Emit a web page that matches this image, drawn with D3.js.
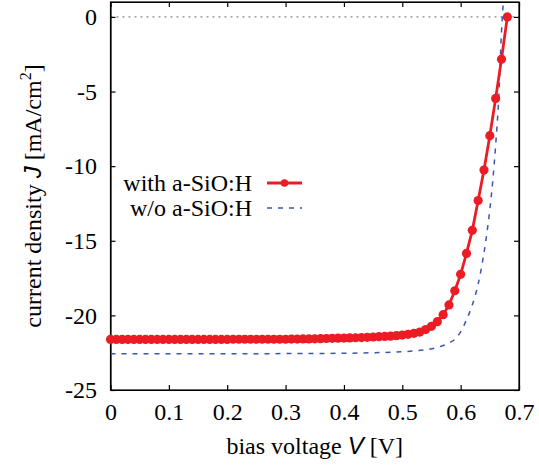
<!DOCTYPE html>
<html>
<head>
<meta charset="utf-8">
<script src="https://cdn.jsdelivr.net/npm/d3@7"></script>
<style>
  body { margin: 0; background: #fff; }
  svg { display: block; }
  svg text { font-family: "Liberation Serif", "Times New Roman", "DejaVu Serif", serif; }
  svg text .it { font-family: "Liberation Sans", "DejaVu Sans", sans-serif; font-style: italic; }
</style>
</head>
<body>
<svg id="svg" width="539" height="467"></svg>
<script>
// bias voltage points of the measured curve (with a-SiO:H)
const voltageWith = [
  0.00, 0.01, 0.02, 0.03, 0.04, 0.05, 0.06, 0.07, 0.08, 0.09,
  0.10, 0.11, 0.12, 0.13, 0.14, 0.15, 0.16, 0.17, 0.18, 0.19,
  0.20, 0.21, 0.22, 0.23, 0.24, 0.25, 0.26, 0.27, 0.28, 0.29,
  0.30, 0.31, 0.32, 0.33, 0.34, 0.35, 0.36, 0.37, 0.38, 0.39,
  0.40, 0.41, 0.42, 0.43, 0.44, 0.45, 0.46, 0.47, 0.48, 0.49,
  0.50, 0.51, 0.52, 0.53, 0.54, 0.55, 0.56, 0.57, 0.58, 0.59,
  0.60, 0.61, 0.62, 0.63, 0.64, 0.65, 0.66, 0.67, 0.68
];
// current density [mA/cm2]
const currentWith = [
  -21.61, -21.61, -21.61, -21.61, -21.61, -21.61, -21.61, -21.61, -21.61, -21.61,
  -21.61, -21.61, -21.61, -21.61, -21.61, -21.61, -21.61, -21.61, -21.61, -21.61,
  -21.61, -21.60, -21.60, -21.60, -21.60, -21.60, -21.60, -21.60, -21.60, -21.60,
  -21.60, -21.59, -21.59, -21.58, -21.58, -21.57, -21.56, -21.55, -21.54, -21.53,
  -21.52, -21.51, -21.50, -21.49, -21.47, -21.45, -21.43, -21.41, -21.39, -21.36,
  -21.32, -21.27, -21.20, -21.12, -20.95, -20.73, -20.42, -19.95, -19.30, -18.35,
  -17.25, -15.85, -14.30, -12.30, -10.26, -7.96, -5.46, -2.83, 0.00
];

// reference curve without a-SiO:H (dashed, no markers)
const voltageWithout = [
  0.00, 0.10, 0.20, 0.30, 0.40, 0.45, 0.50, 0.52, 0.54, 0.56,
  0.58, 0.59, 0.60, 0.61, 0.62, 0.63, 0.64, 0.65, 0.655, 0.66,
  0.665, 0.67, 0.675
];
const currentWithout = [
  -22.57, -22.57, -22.57, -22.56, -22.54, -22.50, -22.44, -22.38, -22.30, -22.15,
  -21.85, -21.60, -21.10, -20.30, -19.30, -17.90, -15.80, -12.90, -11.00, -8.60,
  -5.60, -1.00, 2.00
];

const xTicks = [0, 0.1, 0.2, 0.3, 0.4, 0.5, 0.6, 0.7];
const yTicks = [-25, -20, -15, -10, -5, 0];
const legendLabels = ["with a-SiO:H", "w/o a-SiO:H"];

const red = "#ec1c24";
const blue = "#3a55b4";
const fontSize = 24;

// plot frame
const pLeft = 110.5, pRight = 519, pTop = 2, pBottom = 390;

const xScale = d3.scaleLinear().domain([0, 0.7]).range([pLeft, pRight]);
const yScale = d3.scaleLinear().domain([-25, 1]).range([pBottom, pTop]);

const svg = d3.select("svg");

svg.append("clipPath").attr("id", "plotclip")
  .append("rect")
  .attr("x", pLeft).attr("y", pTop)
  .attr("width", pRight - pLeft).attr("height", pBottom - pTop);

// zero line
svg.append("line")
  .attr("x1", pLeft).attr("x2", pRight)
  .attr("y1", yScale(0)).attr("y2", yScale(0))
  .attr("stroke", "#888").attr("stroke-width", 1.2)
  .attr("stroke-dasharray", "2,4");

// axes, ticks pointing inward
const fmt = d => String(d);

svg.append("g")
  .attr("transform", `translate(0, ${pBottom})`)
  .call(d3.axisBottom(xScale).tickValues(xTicks).tickFormat(fmt)
    .tickSizeInner(-5).tickSizeOuter(0).tickPadding(13));
svg.append("g")
  .attr("transform", `translate(0, ${pTop})`)
  .call(d3.axisTop(xScale).tickValues(xTicks).tickFormat("")
    .tickSizeInner(-5).tickSizeOuter(0));
svg.append("g")
  .attr("transform", `translate(${pLeft}, 0)`)
  .call(d3.axisLeft(yScale).tickValues(yTicks).tickFormat(fmt)
    .tickSizeInner(-5).tickSizeOuter(0).tickPadding(13.5));
svg.append("g")
  .attr("transform", `translate(${pRight}, 0)`)
  .call(d3.axisRight(yScale).tickValues(yTicks).tickFormat("")
    .tickSizeInner(-5).tickSizeOuter(0));

svg.selectAll(".tick text")
  .attr("font-size", fontSize)
  .attr("fill", "#000");
svg.selectAll(".domain, .tick line").attr("stroke", "#000").attr("stroke-width", 1.2);

// close the frame
svg.append("rect")
  .attr("x", pLeft).attr("y", pTop)
  .attr("width", pRight - pLeft).attr("height", pBottom - pTop)
  .attr("fill", "none").attr("stroke", "#000").attr("stroke-width", 1.2);

// curves
const plot = svg.append("g").attr("clip-path", "url(#plotclip)");

const lineWithout = d3.line()
  .x((d, i) => xScale(voltageWithout[i]))
  .y((d, i) => yScale(currentWithout[i]))
  .curve(d3.curveMonotoneX);

plot.append("path")
  .datum(currentWithout)
  .attr("d", lineWithout)
  .attr("fill", "none")
  .attr("stroke", blue)
  .attr("stroke-width", 1.5)
  .attr("stroke-dasharray", "5,6");

const lineWith = d3.line()
  .x((d, i) => xScale(voltageWith[i]))
  .y((d, i) => yScale(currentWith[i]));

plot.append("path")
  .datum(currentWith)
  .attr("d", lineWith)
  .attr("fill", "none")
  .attr("stroke", red)
  .attr("stroke-width", 2.8);

svg.append("g")
  .selectAll("circle")
  .data(currentWith)
  .enter()
  .append("circle")
  .attr("cx", (d, i) => xScale(voltageWith[i]))
  .attr("cy", d => yScale(d))
  .attr("r", 4.6)
  .attr("fill", red);

// legend
const legend = svg.append("g").attr("font-size", fontSize);
legend.append("text").attr("x", 252).attr("y", 191)
  .attr("text-anchor", "end").text(legendLabels[0]);
legend.append("text").attr("x", 252).attr("y", 215.5)
  .attr("text-anchor", "end").text(legendLabels[1]);
legend.append("line")
  .attr("x1", 267).attr("x2", 302).attr("y1", 183).attr("y2", 183)
  .attr("stroke", red).attr("stroke-width", 2.8);
legend.append("circle").attr("cx", 284.5).attr("cy", 183).attr("r", 3.8).attr("fill", red);
legend.append("line")
  .attr("x1", 267).attr("x2", 302).attr("y1", 208).attr("y2", 208)
  .attr("stroke", blue).attr("stroke-width", 1.5)
  .attr("stroke-dasharray", "5,6");

// axis titles
const xTitle = svg.append("text")
  .attr("x", (pLeft + pRight) / 2).attr("y", 454)
  .attr("text-anchor", "middle").attr("font-size", fontSize);
xTitle.append("tspan").text("bias voltage ");
xTitle.append("tspan").attr("class", "it").text("V");
xTitle.append("tspan").text(" [V]");

const yTitle = svg.append("text")
  .attr("transform", `translate(41, ${(pTop + pBottom) / 2}) rotate(-90)`)
  .attr("text-anchor", "middle").attr("font-size", fontSize);
yTitle.append("tspan").text("current density ");
yTitle.append("tspan").attr("class", "it").text("J");
yTitle.append("tspan").text(" [mA/cm");
yTitle.append("tspan").attr("font-size", 16).attr("dy", -10).text("2");
yTitle.append("tspan").attr("dy", 10).text("]");
</script>
</body>
</html>
